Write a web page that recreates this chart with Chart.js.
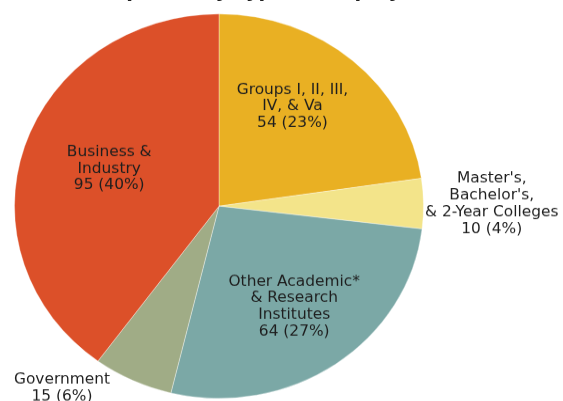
<!DOCTYPE html>
<html>
<head>
<meta charset="utf-8">
<script src="https://cdn.jsdelivr.net/npm/chart.js@4"></script>
<style>
  html, body { margin: 0; padding: 0; background: #fff; overflow: hidden; }
  body { width: 563px; height: 401px; position: relative; }
  #pieChart { position: absolute; left: 0; top: -30px; transform: scaleY(0.94); transform-origin: 0 0; }
</style>
</head>
<body>
<canvas id="pieChart" width="563" height="460"></canvas>
<script>
// Datos del gráfico
const categorias = [
    ['Groups I, II, III,', 'IV, & Va'],
    ["Master's,", "Bachelor's,", '& 2-Year Colleges'],
    ['Other Academic*', '& Research', 'Institutes'],
    ['Government'],
    ['Business &', 'Industry']
];
const valores = [54, 10, 64, 15, 95];
const colores = ['#e9b023', '#f3e48a', '#7ba8a6', '#a0ac86', '#dc5029'];

// Ubicación de cada etiqueta: fracción del radio y desplazamiento angular (grados)
const posEtiquetas = [
    { r: 0.635, giro: -6.4 },
    { r: 1.334, giro: 0 },
    { r: 0.635, giro: -0.6 },
    { r: 1.216, giro: 14.2 },
    { r: 0.573, giro: 2.3 }
];

const escalaY = 0.94;
const total = valores.reduce((a, b) => a + b, 0);

// Plugin para escribir las etiquetas de cada porción
const etiquetasPlugin = {
    id: 'etiquetas',
    afterDatasetsDraw(chart) {
        const ctx = chart.ctx;
        const meta = chart.getDatasetMeta(0);
        meta.data.forEach((arc, i) => {
            const p = arc.getProps(['x', 'y', 'startAngle', 'endAngle', 'outerRadius'], true);
            const ang = (p.startAngle + p.endAngle) / 2 + posEtiquetas[i].giro * Math.PI / 180;
            const x = p.x + Math.cos(ang) * p.outerRadius * posEtiquetas[i].r;
            const y = p.y + Math.sin(ang) * p.outerRadius * posEtiquetas[i].r;
            const lineas = categorias[i].concat([valores[i] + ' (' + Math.round(valores[i] / total * 100) + '%)']);
            const alto = 16.7;
            ctx.save();
            ctx.translate(x, y);
            ctx.scale(1, 1 / escalaY);
            ctx.font = '15.4px "DejaVu Sans"';
            ctx.fillStyle = '#1e1e1e';
            ctx.textAlign = 'center';
            ctx.textBaseline = 'middle';
            lineas.forEach((t, k) => {
                ctx.fillText(t, 0, (k - (lineas.length - 1) / 2) * alto + 1);
            });
            ctx.restore();
        });
    }
};

new Chart(document.getElementById('pieChart').getContext('2d'), {
    type: 'pie',
    data: {
        labels: categorias,
        datasets: [{
            data: valores,
            backgroundColor: colores,
            borderColor: 'rgba(255,255,255,0.35)',
            borderWidth: 1
        }]
    },
    options: {
        responsive: false,
        animation: false,
        layout: { padding: { left: 14, right: 139, top: 0, bottom: 0 } },
        plugins: {
            legend: { display: false },
            tooltip: { enabled: false },
            title: {
                display: true,
                text: 'Ph.D. Recipients by Type of Employer',
                color: '#222',
                font: { family: 'DejaVu Sans', size: 22, weight: 'bold' },
                padding: { top: 10, bottom: 6 }
            }
        }
    },
    plugins: [etiquetasPlugin]
});
</script>
</body>
</html>
